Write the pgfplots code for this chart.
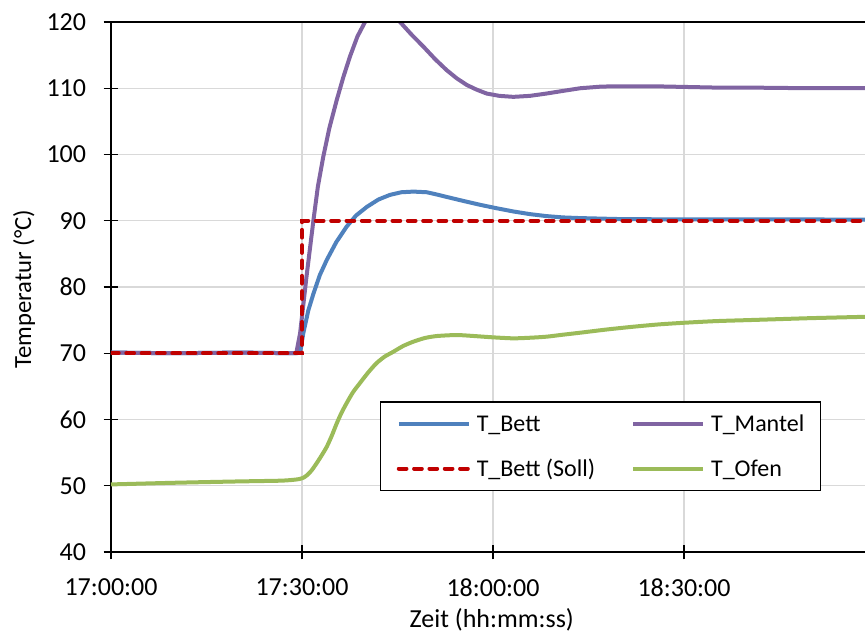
\documentclass[border=0pt]{standalone}
\usepackage{fontspec}
\setmainfont{Carlito}
\usepackage{pgfplots}
\pgfplotsset{compat=1.18}
\usepackage{pgfplotstable}
\definecolor{cBett}{HTML}{4F81BD}
\definecolor{cMantel}{HTML}{8064A2}
\definecolor{cSoll}{HTML}{C00000}
\definecolor{cOfen}{HTML}{9BBB59}
\definecolor{cGrid}{HTML}{D9D9D9}

\pgfplotstableread{
t T
0 70.1
10 70.0
20 70.1
29.3 70.0
29.8 70.6
30.2 73.0
31.0 76.5
31.8 79.0
32.8 81.8
33.9 84.1
35.4 86.8
37.0 89.1
38.5 90.8
40.2 92.1
42.0 93.2
43.8 93.9
45.6 94.3
47.5 94.4
49.6 94.3
51.0 94.0
52.7 93.6
55.3 93.0
58.0 92.4
60.5 91.9
63.2 91.4
65.8 91.0
68.4 90.7
71.0 90.5
73.7 90.4
80 90.25
90 90.2
100 90.2
110 90.2
118.43 90.15
}\bett

\pgfplotstableread{
t T
0 70.1
10 70.0
20 70.1
29.1 70.0
29.7 73.0
30.7 81.5
31.8 90.1
32.5 95.2
33.35 99.7
34.3 104.0
35.45 108.2
36.5 111.7
37.54 114.8
38.7 117.8
39.9 120.0
41.0 121.5
42.5 122.2
44.0 121.5
45.4 120.0
47.2 118.1
49.05 116.3
50.9 114.4
52.7 112.75
54.3 111.5
55.87 110.5
57.4 109.8
59.0 109.2
61.0 108.85
63.2 108.7
65.8 108.85
68.4 109.2
71.0 109.6
73.7 110.0
77 110.25
80 110.3
85 110.3
90 110.2
95 110.1
100 110.1
105 110.05
110 110.0
118.43 110.0
}\mantel

\pgfplotstableread{
t T
0 70
30 70
30 90
118.43 90
}\soll

\pgfplotstableread{
t T
0 50.2
10 50.45
20 50.65
26.5 50.76
28.5 50.88
29.5 51.0
30.2 51.2
30.8 51.6
31.5 52.3
32.3 53.4
33.1 54.6
33.9 55.9
34.7 57.6
35.45 59.4
36.2 61.0
37.0 62.45
38.0 64.1
39.1 65.5
40.4 67.1
41.7 68.5
43.0 69.5
44.3 70.2
45.9 71.1
47.5 71.75
49.3 72.3
51.2 72.6
54.3 72.75
57 72.6
60 72.4
63.2 72.25
66 72.35
68.4 72.5
71 72.8
73.7 73.1
78 73.6
82 74.0
86 74.35
90 74.6
95 74.85
100 75.0
105 75.15
110 75.3
118.43 75.5
}\ofen

\begin{document}
\begin{tikzpicture}[font=\fontsize{19.5}{23.4}\selectfont]
\useasboundingbox (0,0) rectangle (648.75pt,476.25pt);
\begin{axis}[
  at={(83.25pt,62.25pt)}, anchor=south west,
  scale only axis, width=565.5pt, height=397.5pt,
  xmin=0, xmax=118.43, ymin=40, ymax=120,
  axis lines*=left,
  axis line style={black, line width=1.1pt},
  clip mode=individual,
  xtick={0,30,60,90},
  xticklabels={17:00:00,17:30:00,18:00:00,18:30:00},
  ytick={40,50,...,120},
  tick align=center,
  major tick length=11pt,
  tick style={black, line width=1.1pt},
  grid=major,
  major grid style={cGrid, line width=1.1pt},
  /pgf/number format/assume math mode=true,
  tick label style={font=\fontsize{19.5}{23.4}\selectfont, inner sep=0pt},
  xticklabel style={anchor=north, yshift=-14pt},
  yticklabel style={anchor=east, xshift=-13pt},
  xlabel={Zeit (hh:mm:ss)},
  ylabel={Temperatur (°C)},
  xlabel style={at={(axis description cs:0.505,-0.1283)}, anchor=center, inner sep=0pt, font=\fontsize{19.5}{23.4}\selectfont},
  ylabel style={at={(axis description cs:-0.1154,0.496)}, anchor=center, inner sep=0pt, font=\fontsize{18.5}{22}\selectfont},
  legend columns=2,
  legend cell align=left,
  legend style={at={(axis description cs:0.3568,0.1151)}, anchor=south west,
    draw=black, line width=1.1pt, inner xsep=12pt, inner ysep=10pt,
    font=\fontsize{18}{21.6}\selectfont,
    nodes={inner sep=0pt, text height=12.56pt, text depth=0pt},
    column sep=4.5pt, row sep=21.2pt,
    /tikz/every even column/.append style={column sep=28pt}},
  legend image code/.code={\draw[#1] (0pt,0pt) -- (52.5pt,0pt);},
]
\addplot[cBett, line width=3pt, line join=round] table[x=t,y=T]{\bett};
\addlegendentry{\makebox[87.75pt][l]{T\_Bett}}
\addplot[cMantel, line width=3pt, line join=round] table[x=t,y=T]{\mantel};
\addlegendentry{T\_Mantel}
\addplot[cSoll, line width=3pt, line cap=round, dash pattern=on 5.8pt off 5.7pt] table[x=t,y=T]{\soll};
\addlegendentry{\makebox[87.75pt][l]{T\_Bett (Soll)}}
\addplot[cOfen, line width=3pt, line join=round, smooth, tension=0.4] table[x=t,y=T]{\ofen};
\addlegendentry{T\_Ofen}
\draw[black, line width=1.1pt] (rel axis cs:0,1) -- (rel axis cs:1,1);
\end{axis}
\end{tikzpicture}
\end{document}
